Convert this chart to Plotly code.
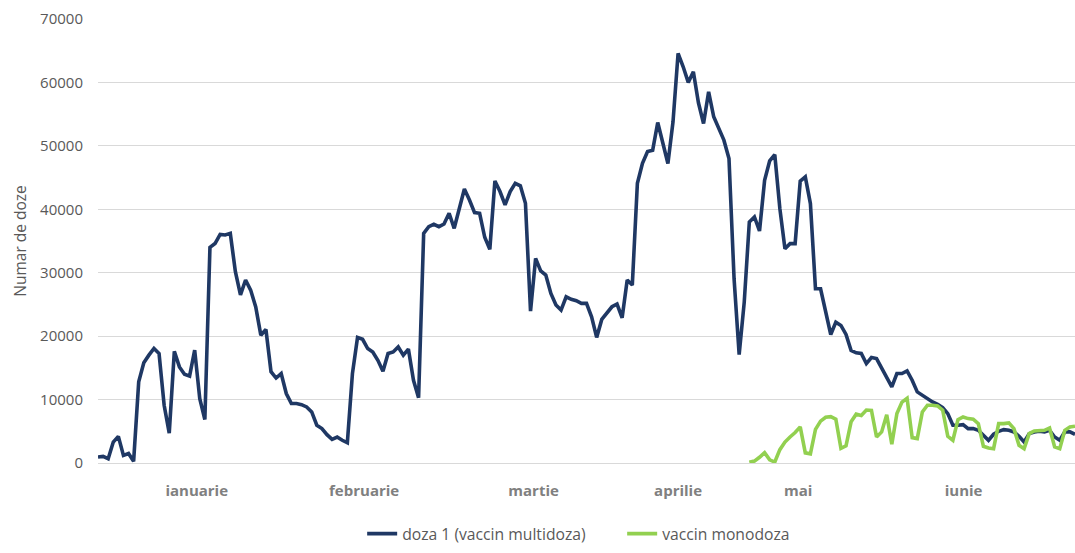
import plotly.graph_objects as go

# day index (daily data, 193 days)
zile = list(range(193))

doza1_multidoza = [
    950, 1050, 680, 3300, 4200, 1200, 1500, 260, 12800, 15800,
    17000, 18050, 17260, 9100, 4700, 17600, 15150, 14000, 13700, 17800,
    10150, 6850, 34000, 34600, 36050, 35950, 36200, 30150, 26500, 28850,
    27260, 24600, 20150, 21050, 14400, 13400, 14100, 10950, 9370, 9370,
    9200, 8840, 8050, 5950, 5420, 4470, 3740, 4100, 3580, 3200,
    14100, 19800, 19500, 18050, 17500, 16200, 14470, 17260, 17500, 18300,
    17000, 17950, 13050, 10300, 36200, 37260, 37630, 37260, 37680, 39370,
    37000, 39900, 43200, 41470, 39470, 39370, 35580, 33700, 44470, 42800,
    40680, 42800, 44100, 43700, 40950, 23950, 32260, 30300, 29630, 26740,
    24900, 24100, 26200, 25800, 25580, 25160, 25160, 23050, 19800, 22630,
    23740, 24630, 25050, 22900, 28840, 28050, 44100, 47260, 49100, 49300,
    53680, 50370, 47210, 53790, 64580, 62470, 60000, 61680, 56790, 53530,
    58530, 54580, 52740, 50900, 48000, 29050, 17100, 25370, 38000, 38790,
    36580, 44580, 47630, 48630, 40100, 33790, 34580, 34580, 44420, 45100,
    40900, 27470, 27470, 24050, 20260, 22210, 21690, 20260, 17740, 17370,
    17260, 15680, 16630, 16470, 14900, 13300, 12000, 14100, 14100, 14530,
    13050, 11210, 10680, 10260, 9630, 9260, 8740, 7790, 5950, 5950,
    6050, 5420, 5420, 5160, 4370, 3580, 4530, 5000, 5260, 5160,
    4900, 4210, 3320, 4630, 4900, 5000, 4900, 5160, 4100, 3580,
    4900, 4900, 4530,
]

vaccin_monodoza = [None] * 128 + [
    100, 300, 900, 1630, 500, 150, 2100, 3300, 4100, 4800,
    5700, 1600, 1450, 5300, 6600, 7200, 7300, 6900, 2300, 2700,
    6500, 7700, 7500, 8350, 8300, 4100, 4900, 7600, 2950, 7800,
    9600, 10200, 4000, 3850, 8050, 9100, 9100, 9000, 8320, 4210,
    3580, 6840, 7260, 7000, 6900, 6210, 2630, 2370, 2260, 6210,
    6210, 6320, 5420, 2790, 2260, 4630, 5050, 5050, 5160, 5530,
    2530, 2260, 5160, 5680, 5790,
]

luni = ["ianuarie", "februarie", "martie", "aprilie", "mai", "iunie"]
pozitii_luni = [19.4, 52.3, 85.6, 114.0, 137.6, 170.1]

y_ticks = [0, 10000, 20000, 30000, 40000, 50000, 60000, 70000]

FONT = "Open Sans"

fig = go.Figure()
fig.add_trace(go.Scatter(
    x=zile, y=doza1_multidoza, mode="lines",
    name="doza 1 (vaccin multidoza)",
    line=dict(color="#1F3864", width=3.6),
))
fig.add_trace(go.Scatter(
    x=zile, y=vaccin_monodoza, mode="lines",
    name="vaccin monodoza",
    line=dict(color="#92D050", width=3.6),
))

fig.update_layout(
    width=1075, height=553,
    margin=dict(l=98, r=0, t=19, b=90),
    paper_bgcolor="white", plot_bgcolor="white",
    font=dict(family=FONT, size=15, color="#595959"),
    showlegend=True,
    legend=dict(
        orientation="h", x=0.5365, xanchor="center",
        y=-0.198, yanchor="bottom",
        font=dict(family=FONT, size=15.7, color="#595959"),
        itemwidth=30, tracegroupgap=0,
        entrywidth=215, entrywidthmode="pixels",
    ),
    xaxis=dict(
        range=[0, 192],
        tickmode="array", tickvals=pozitii_luni, ticktext=luni,
        tickfont=dict(family=FONT, size=15, color="#808080", weight="bold"),
        showgrid=False, zeroline=False,
        showline=True, linecolor="#d9d9d9", linewidth=1,
        ticks="", ticklabelstandoff=14,
    ),
    yaxis=dict(
        range=[0, 70000],
        tickmode="array", tickvals=y_ticks,
        ticktext=[str(v) for v in y_ticks],
        tickfont=dict(family=FONT, size=15, color="#595959"),
        showgrid=True, gridcolor="#d9d9d9", gridwidth=1,
        zeroline=False, showline=False, ticks="",
        ticklabelstandoff=14,
        title=dict(text="Numar de doze", standoff=9,
                   font=dict(family=FONT, size=15.5, color="#595959")),
    ),
)

fig.write_html("out.html")
